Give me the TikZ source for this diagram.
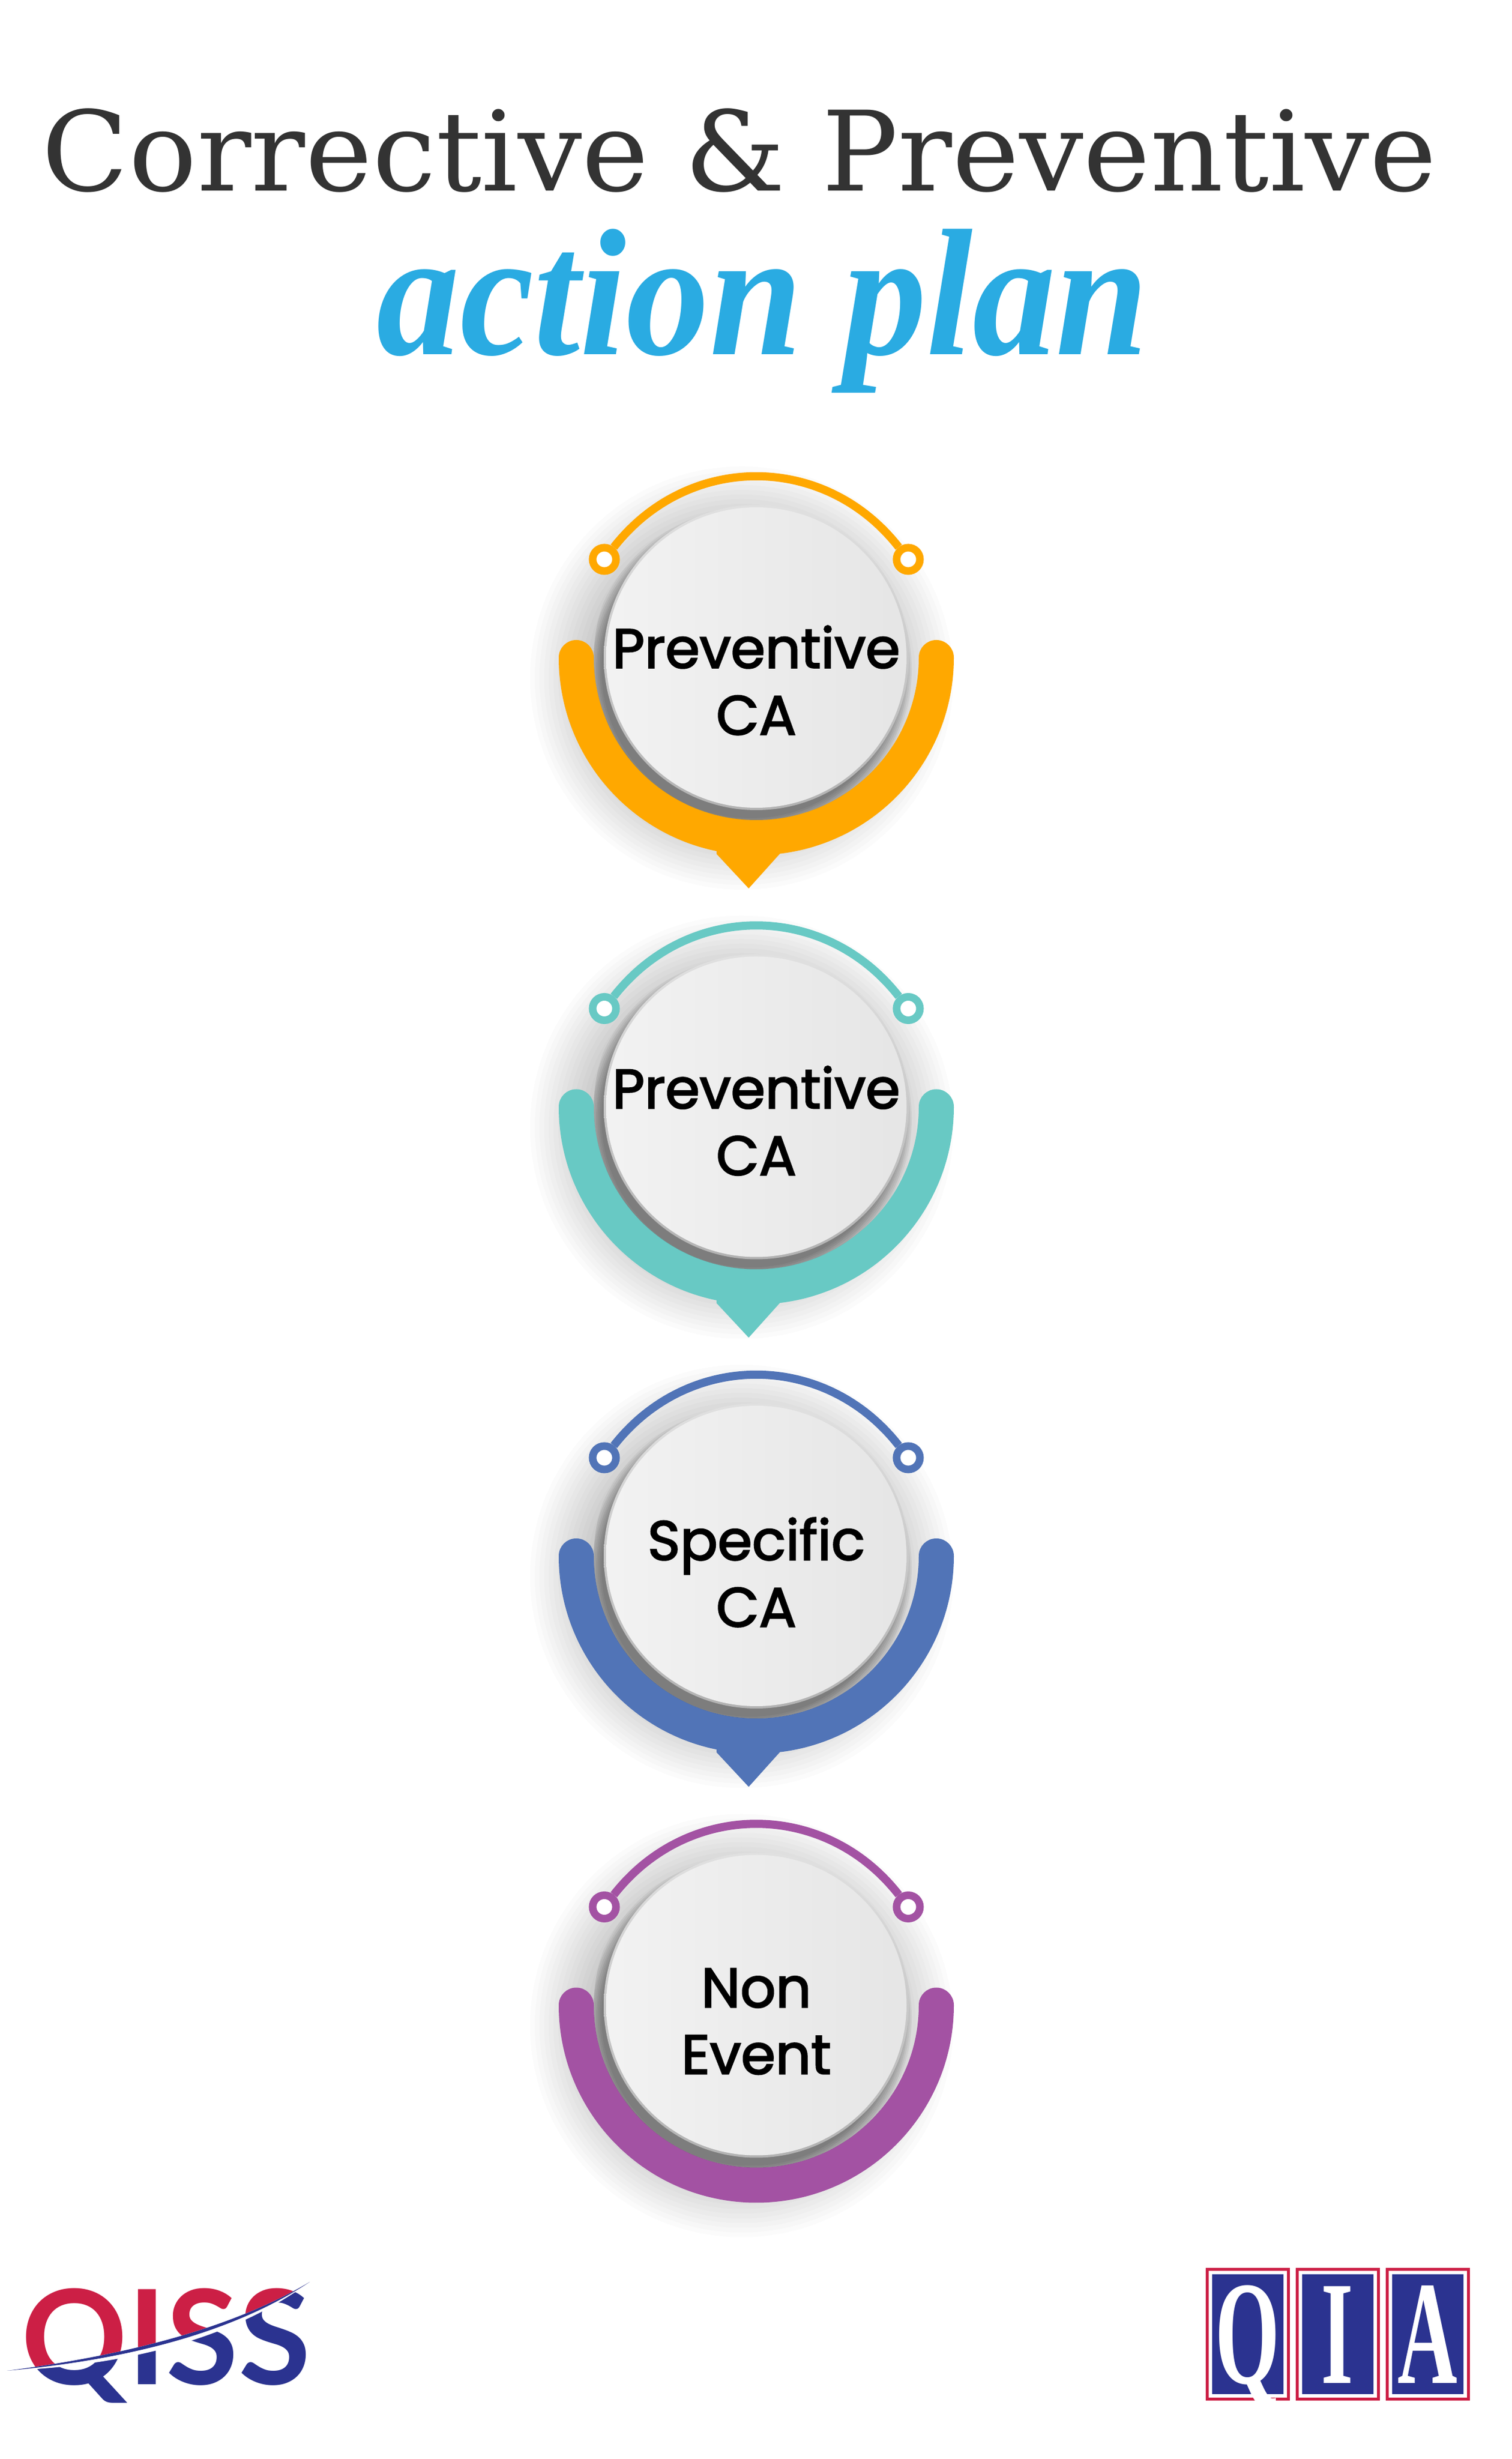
\documentclass[tikz,border=0pt]{standalone}
\usepackage{fontspec}
\usepackage{tikz}
\usetikzlibrary{arrows.meta, positioning}
\newfontfamily\titlefont{DejaVu Serif}
\newfontfamily\brushfont{Liberation Serif}
\newfontfamily\labelfont[FakeBold=2.5]{Poppins}
\newfontfamily\qissfont{Lato}
\newfontfamily\qiafont{Liberation Serif}
\definecolor{orangeband}{HTML}{FFA800}
\definecolor{tealband}{HTML}{68C9C4}
\definecolor{blueband}{HTML}{5174B7}
\definecolor{purpleband}{HTML}{A352A3}
\definecolor{titlegrey}{HTML}{333333}
\definecolor{brushblue}{HTML}{2AABE2}
\definecolor{logored}{HTML}{CC1F45}
\definecolor{logoblue}{HTML}{2B3390}
\newcommand{\qiachar}[1]{\scalebox{.56}[1]{#1}}
\begin{document}
\begin{tikzpicture}[node distance=7.685cm]
    \tikzstyle{softshadow}=[fill=black, fill opacity=.015]
    \tikzstyle{hardshadow}=[fill=black, fill opacity=.05]
    \tikzstyle{band}=[line width=.6cm, line cap=round]
    \tikzstyle{rim}=[top color=black!12, bottom color=black!30]
    \tikzstyle{face}=[circle, minimum size=5.14cm, inner sep=0pt, left color=black!5, right color=black!10]
    \tikzstyle{ring}=[circle, fill=white, line width=.13cm, minimum size=.40cm, inner sep=0pt]
    \tikzstyle{lbl}=[font=\labelfont\fontsize{27}{32.5}\selectfont, align=center, text=black, inner sep=0pt]
    \tikzstyle{qiaframe}=[draw=logored, fill=white, line width=.05cm, minimum width=1.39cm, minimum height=2.22cm]
    \tikzstyle{qiabox}=[fill=logoblue, minimum width=1.22cm, minimum height=2.05cm]
    \tikzstyle{qiatext}=[text=white, font=\qiafont\bfseries\fontsize{72}{72}\selectfont, anchor=base, inner sep=0pt]
    \tikzstyle{qisstext}=[font=\qissfont\bfseries\fontsize{64}{64}\selectfont, anchor=base, inner sep=0pt]

    \useasboundingbox (0,0) rectangle (25.87,42.07);
    \fill[white] (0,0) rectangle (25.87,42.07);

    % heading
    \node[anchor=base, inner sep=0pt, text=titlegrey, font=\titlefont\fontsize{54}{54}\selectfont] (title) at (12.65,38.80) {\scalebox{1.022}[1]{Corrective \& Preventive}};
    \node[anchor=base, inner sep=0pt, text=brushblue, font=\brushfont\bfseries\itshape\fontsize{88}{88}\selectfont] (subtitle) at (13.05,36.00) {\scalebox{.92}[1]{action plan}};

    % centres of the four discs
    \coordinate (ac) at (12.94,30.82);
    \coordinate[below of=ac] (bc);
    \coordinate[below of=bc] (cc);
    \coordinate[below of=cc] (dc);

    \foreach \n/\col/\up/\lo/\dy in {a/orangeband/Preventive/CA/-.39, b/tealband/Preventive/CA/-.24, c/blueband/Specific/CA/-.28, d/purpleband/Non/Event/-.28} {
        \foreach \r in {2.5,2.58,...,3.7}
            \fill[softshadow] ([shift={(-.25,-.35)}]\n c) circle (\r);
        \draw[band, \col] ([shift={(-3.08,0)}]\n c) arc[start angle=180, end angle=360, radius=3.08];
        \node[ring, draw=\col] (\n l) at ([shift={(-2.60,1.68)}]\n c) {};
        \node[ring, draw=\col] (\n r) at ([shift={(2.60,1.68)}]\n c) {};
        \draw[\col, line width=.14cm] (\n l) to[bend left=52, looseness=1.08] (\n r);
        \begin{scope}
            \clip (\n c) circle (2.78);
            \foreach \r in {2.55,2.58,...,2.76}
                \fill[hardshadow] ([shift={(-.10,-.20)}]\n c) circle (\r);
        \end{scope}
        \shade[rim] (\n c) circle (2.61);
        \node[face] (\n) at (\n c) {};
        \node[lbl] (\n t) at ([yshift=\dy cm]\n) {\up\\\lo};
    }

    % pointers under the first three bands
    \foreach \n/\col in {a/orangeband, b/tealband, c/blueband}
        \fill[\col] ([shift={(-.68,-3.36)}]\n c) -- ([shift={(-.13,-3.95)}]\n c) -- ([shift={(.40,-3.36)}]\n c) -- ([shift={(.40,-3.15)}]\n c) -- ([shift={(-.68,-3.15)}]\n c) -- cycle;

    % QISS
    \begin{scope}
        \clip (.12,1.51) .. controls (2.2,1.78) and (4.0,2.25) .. (5.30,3.03) -- (5.6,3.6) -- (0,3.6) -- (0,1.51) -- cycle;
        \node[qisstext, text=logored] (qissup) at (2.84,1.27) {QISS};
    \end{scope}
    \begin{scope}
        \clip (.12,1.51) .. controls (2.2,1.78) and (4.0,2.25) .. (5.30,3.03) -- (5.6,0) -- (0,0) -- cycle;
        \node[qisstext, text=logoblue] (qisslo) at (2.84,1.27) {QISS};
    \end{scope}
    \fill[white] (.12,1.51) .. controls (2.2,1.60) and (4.0,2.07) .. (5.30,3.03) .. controls (4.0,2.25) and (2.2,1.78) .. (.12,1.51) -- cycle;
    \fill[logoblue] (.12,1.51) .. controls (2.2,1.70) and (4.0,2.17) .. (5.30,3.03) .. controls (4.0,2.25) and (2.2,1.78) .. (.12,1.51) -- cycle;

    % QIA
    \node[qiaframe] (qframe) at (21.345,2.135) {};
    \node[qiaframe, right of=qframe, node distance=1.54cm] (iframe) {};
    \node[qiaframe, right of=iframe, node distance=1.54cm] (aframe) {};
    \foreach \n/\t in {qframe/Q, iframe/I, aframe/A} {
        \node[qiabox] (\t box) at (\n) {};
        \node[qiatext] (\t char) at ([yshift=-.84cm]\n) {\qiachar{\t}};
    }
\end{tikzpicture}
\end{document}
